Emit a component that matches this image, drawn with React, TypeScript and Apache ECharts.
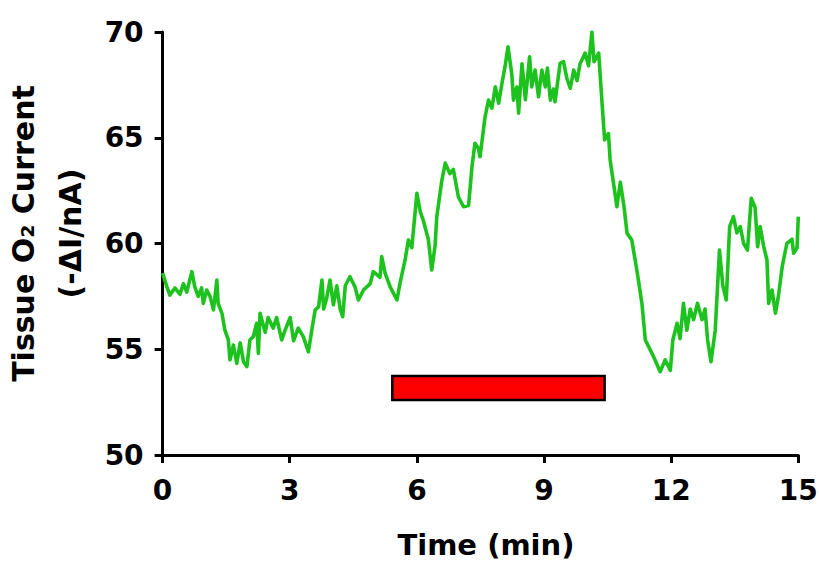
import React, { useEffect, useRef } from "react";
import * as echarts from "echarts";

// Time (min) and tissue O2 current (-ΔI/nA)
const timeMin: number[] = [
  0, 0.1, 0.17, 0.29, 0.41, 0.49, 0.57, 0.69, 0.76, 0.84, 0.92, 0.96, 1.04, 1.12, 1.2, 1.28, 1.31, 1.4, 1.47, 1.55,
  1.59, 1.67, 1.75, 1.83, 1.91, 1.99, 2.06, 2.14, 2.22, 2.26, 2.3, 2.42, 2.49, 2.61, 2.69, 2.81, 2.89, 3.01, 3.09, 3.2,
  3.32, 3.44, 3.52, 3.6, 3.68, 3.76, 3.8, 3.87, 3.95, 4.03, 4.11, 4.19, 4.25, 4.31, 4.42, 4.54, 4.62, 4.74, 4.9, 4.97,
  5.13, 5.17, 5.25, 5.37, 5.53, 5.6, 5.72, 5.8, 5.88, 6.0, 6.08, 6.15, 6.27, 6.35, 6.43, 6.47, 6.59, 6.67, 6.78, 6.86,
  6.98, 7.1, 7.22, 7.3, 7.37, 7.45, 7.49, 7.61, 7.69, 7.77, 7.85, 7.93, 8.01, 8.08, 8.15, 8.24, 8.28, 8.36, 8.4, 8.48,
  8.56, 8.66, 8.71, 8.79, 8.87, 8.95, 9.03, 9.08, 9.15, 9.22, 9.26, 9.38, 9.46, 9.54, 9.62, 9.7, 9.78, 9.85, 9.97, 10.05,
  10.13, 10.18, 10.29, 10.37, 10.43, 10.52, 10.56, 10.64, 10.72, 10.8, 10.89, 10.96, 11.07, 11.19, 11.31, 11.39, 11.51, 11.62, 11.74, 11.86,
  11.98, 12.04, 12.14, 12.21, 12.29, 12.37, 12.45, 12.53, 12.62, 12.73, 12.8, 12.86, 12.94, 13.04, 13.14, 13.22, 13.3, 13.38, 13.47, 13.55,
  13.63, 13.71, 13.8, 13.89, 13.98, 14.04, 14.1, 14.18, 14.26, 14.3, 14.38, 14.46, 14.53, 14.62, 14.73, 14.85, 14.89, 14.97, 15.0,
];
const currentNA: number[] = [
  58.6, 57.96, 57.56, 57.9, 57.6, 58.1, 57.7, 58.67, 57.95, 57.5, 57.9, 57.17, 57.8, 57.5, 56.86, 58.27, 57.17, 56.7, 55.9, 55.44,
  54.5, 55.2, 54.33, 55.3, 54.4, 54.18, 55.44, 55.6, 56.23, 54.8, 56.7, 55.8, 56.5, 56.0, 56.5, 55.44, 55.9, 56.5, 55.4, 56.0,
  55.6, 54.88, 55.9, 56.86, 57.0, 58.27, 56.9, 57.4, 58.27, 57.1, 58.0, 56.9, 56.54, 58.0, 58.43, 57.95, 57.33, 57.8, 58.1, 58.67,
  58.4, 59.38, 58.6, 57.95, 57.33, 58.1, 59.2, 60.17, 59.8, 62.37, 61.5, 61.1, 60.2, 58.75, 59.9, 61.27, 63.0, 63.8, 63.3, 63.5,
  62.2, 61.74, 61.8, 63.63, 64.74, 64.5, 64.1, 66.0, 66.78, 66.4, 67.41, 66.63, 67.6, 68.36, 69.3, 68.0, 66.78, 67.4, 66.16, 68.5,
  66.8, 68.83, 67.4, 68.2, 66.94, 68.2, 67.4, 68.3, 66.78, 67.3, 66.7, 68.52, 68.6, 67.8, 67.34, 68.2, 67.7, 68.5, 69.0, 68.4,
  70.0, 68.6, 69.0, 66.63, 64.9, 65.2, 63.95, 62.85, 61.74, 62.9, 61.7, 60.48, 60.17, 58.75, 57.17, 55.44, 54.96, 54.49, 53.94, 54.5,
  54.0, 55.44, 56.23, 55.5, 57.17, 55.9, 56.9, 56.4, 57.17, 56.4, 56.9, 55.44, 54.41, 55.9, 59.69, 58.0, 57.33, 60.8, 61.27, 60.5,
  60.8, 60.0, 59.69, 62.14, 61.7, 59.85, 60.8, 59.9, 59.22, 57.17, 57.8, 56.7, 57.5, 58.9, 60.0, 60.2, 59.54, 59.8, 61.27,
];

// Treatment bar: start/end time (min) and bottom/top (nA)
const barTime: number[] = [5.42, 10.43];
const barLevel: number[] = [52.6, 53.73];

const xTicks: number[] = [0, 15, 3];
const yTicks: number[] = [50, 70, 5];

const FONT = "'DejaVu Sans', 'Liberation Sans', Arial, sans-serif";

export default function App() {
  const ref = useRef<HTMLDivElement>(null);

  useEffect(() => {
    document.body.style.margin = "0";
    if (!ref.current) return;
    const chart = echarts.init(ref.current, undefined, { renderer: "svg" });
    const data = timeMin.map((t, i) => [t, currentNA[i]]);
    chart.setOption({
      animation: false,
      backgroundColor: "#ffffff",
      grid: {
        left: 162.6,
        right: 20.7,
        top: 32,
        bottom: 111,
        containLabel: false,
        outerBoundsMode: "none",
      },
      xAxis: {
        type: "value",
        min: xTicks[0],
        max: xTicks[1],
        interval: xTicks[2],
        name: "Time (min)",
        nameLocation: "middle",
        nameGap: 75,
        nameTextStyle: { fontFamily: FONT, fontWeight: "bold", fontSize: 29, color: "#000", padding: [0, 0, 0, 11] },
        axisLine: { show: true, lineStyle: { color: "#000", width: 3 } },
        axisTick: { show: true, inside: false, length: 8, lineStyle: { color: "#000", width: 3 } },
        axisLabel: { fontFamily: FONT, fontWeight: "bold", fontSize: 28, color: "#000", margin: 21 },
        splitLine: { show: false },
      },
      yAxis: {
        type: "value",
        min: yTicks[0],
        max: yTicks[1],
        interval: yTicks[2],
        name: "Tissue O₂ Current\n(-ΔI/nA)",
        nameLocation: "middle",
        nameGap: 60,
        nameTextStyle: {
          fontFamily: FONT,
          fontWeight: "bold",
          fontSize: 30,
          lineHeight: 47,
          color: "#000",
          align: "center",
          padding: [0, 0, 0, 20],
        },
        axisLine: { show: true, lineStyle: { color: "#000", width: 3 } },
        axisTick: { show: true, inside: false, length: 8, lineStyle: { color: "#000", width: 3 } },
        axisLabel: { fontFamily: FONT, fontWeight: "bold", fontSize: 28, color: "#000", margin: 19 },
        splitLine: { show: false },
      },
      series: [
        {
          type: "line",
          data,
          showSymbol: false,
          symbol: "none",
          lineStyle: { color: "#1ec21e", width: 3.6, join: "round" },
          markArea: {
            silent: true,
            itemStyle: { color: "#ff0000", borderColor: "#000000", borderWidth: 2.5 },
            data: [[{ coord: [barTime[0], barLevel[0]] }, { coord: [barTime[1], barLevel[1]] }]],
          },
        },
      ],
    });
    return () => chart.dispose();
  }, []);

  return <div ref={ref} style={{ width: 819, height: 566 }} />;
}
